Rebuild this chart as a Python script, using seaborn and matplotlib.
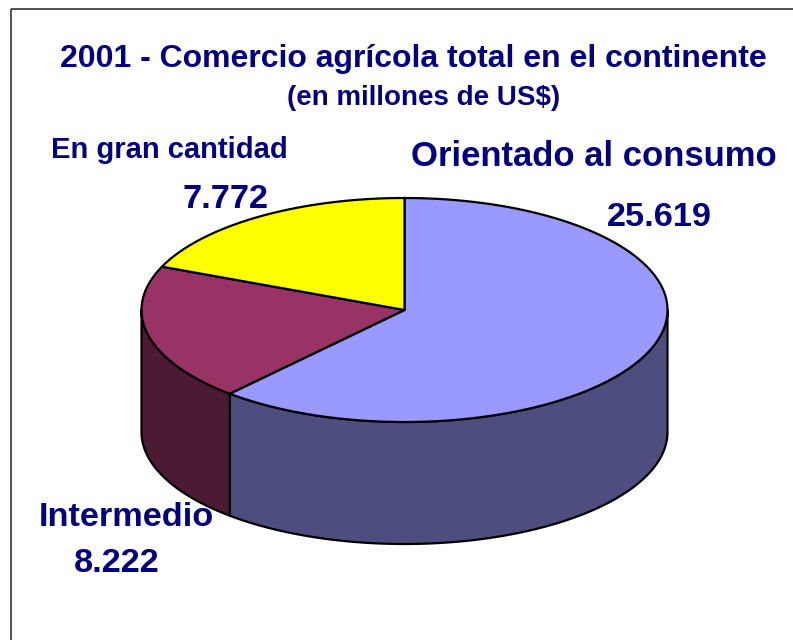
"""Comercio agricola 2001 - tilted 3D pie built on seaborn/matplotlib."""
import numpy as np
import matplotlib
matplotlib.use("Agg")
import matplotlib.pyplot as plt
from matplotlib.patches import Polygon, Rectangle
import seaborn as sns

categories = ["Orientado al consumo", "Intermedio", "En gran cantidad"]
values = [25619, 8222, 7772]
value_labels = ["25.619", "8.222", "7.772"]
top_colors = ["#9999FF", "#993366", "#FFFF00"]
side_colors = ["#4D4D80", "#4D1A33", "#808000"]

TEXT = "#000080"
CX, CY, RX, RY, DEPTH = 404.5, 310, 263, 112, 122

sns.set_theme(style="white")
plt.rcParams["font.family"] = ["Liberation Sans", "DejaVu Sans"]


def rim(a0, a1, n=200):
    # clockwise from the top, angles in degrees
    t = np.radians(np.linspace(a0, a1, n))
    return CX + RX * np.sin(t), CY - RY * np.cos(t)


fig = plt.figure(figsize=(7.93, 6.40), dpi=100)
ax = fig.add_axes([0, 0, 1, 1])
ax.set_xlim(0, 793)
ax.set_ylim(640, 0)
ax.axis("off")

ax.add_patch(Rectangle((10.5, 9), 800, 700, fill=False, ec="#222222", lw=1.1))

edges = np.concatenate([[0], np.cumsum(values)]) / sum(values) * 360.0

# side walls, only the part of the rim facing the viewer
for i in range(len(values)):
    a0, a1 = max(edges[i], 90), min(edges[i + 1], 270)
    if a0 >= a1:
        continue
    x, y = rim(a0, a1)
    pts = np.r_[np.c_[x, y], np.c_[x[::-1], y[::-1] + DEPTH]]
    ax.add_patch(Polygon(pts, fc=side_colors[i], ec="black", lw=1.6, joinstyle="round"))

# top face
for i in range(len(values)):
    x, y = rim(edges[i], edges[i + 1])
    pts = np.r_[[[CX, CY]], np.c_[x, y]]
    ax.add_patch(Polygon(pts, fc=top_colors[i], ec="black", lw=1.6, joinstyle="round"))

ax.text(413, 59, "2001 - Comercio agrícola total en el continente", fontsize=23.05,
        fontweight="bold", color=TEXT, ha="center", va="center")
ax.text(424, 98, "(en millones de US$)", fontsize=20, fontweight="bold",
        color=TEXT, ha="center", va="center")

ax.text(593.5, 156, categories[0], fontsize=24.9, fontweight="bold", color=TEXT, ha="center", va="center")
ax.text(659, 217, value_labels[0], fontsize=24.7, fontweight="bold", color=TEXT, ha="center", va="center")
ax.text(126.5, 517, categories[1], fontsize=24.7, fontweight="bold", color=TEXT, ha="center", va="center")
ax.text(117, 564, value_labels[1], fontsize=24.7, fontweight="bold", color=TEXT, ha="center", va="center")
ax.text(169, 150, categories[2], fontsize=21, fontweight="bold", color=TEXT, ha="center", va="center")
ax.text(225, 200, value_labels[2], fontsize=24.7, fontweight="bold", color=TEXT, ha="center", va="center")

fig.savefig("out.png", dpi=100, facecolor="white")
plt.close(fig)
